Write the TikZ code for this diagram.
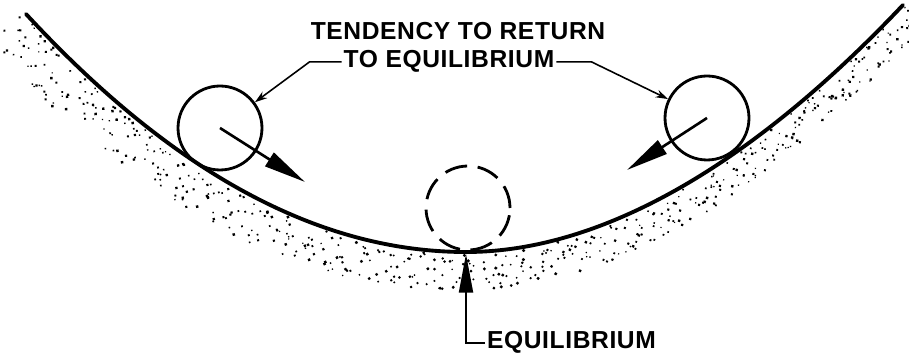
\documentclass[tikz,border=0pt]{standalone}
\usepackage{fontspec}
\newfontfamily\letterfont[LetterSpace=2.5]{Liberation Sans}
\usetikzlibrary{arrows.meta,decorations.markings}

\begin{document}
\begin{tikzpicture}[x=0.02cm,y=-0.02cm,
  ball/.style={circle,draw,line width=1.6pt,minimum size=1.68cm,inner sep=0pt},
  lbl/.style={font=\letterfont\bfseries\fontsize{14}{16}\selectfont,inner sep=1pt},
  leader/.style={line width=0.9pt,-{Stealth[length=7pt,width=4.5pt]}},
  push/.style={line width=1.5pt,-{Triangle[length=24pt,width=9pt]}},
  sand/.style={decoration={markings,
    mark=between positions 0 and 1 step 1.1pt with {
      \pgfmathsetmacro{\band}{26-11*\pgfkeysvalueof{/pgf/decoration/mark info/distance from start}/\pgfdecoratedpathlength}
      \pgfmathsetmacro{\dotr}{0.45+0.55*rnd}
      \fill ({(rnd-0.5)*6pt},{-1.5pt-rnd*\band*1pt}) circle (\dotr pt);}},
    postaction={decorate}}]
\useasboundingbox (0,0) rectangle (909,357);
\pgfmathsetseed{31}

% track with the ground under it
\draw[line width=2.2pt,line cap=round,sand] (26,14) .. controls (173,173) and (319,252) .. (466,252)
  .. controls (600,252) and (750,167) .. (903,5);

\node[ball] (lball) at (220,128) {};
\node[ball] (rball) at (707,118) {};
\node[ball,dashed,dash pattern=on 13pt off 6pt] (eqball) at (468,208) {};

\coordinate (ltip) at (305,182);
\coordinate (rtip) at (627,170);
\draw[push] (lball.center) -- (ltip);
\draw[push] (rball.center) -- (rtip);

\node[lbl,anchor=base] (tendency) at (458,40) {TENDENCY TO RETURN};
\node[lbl,anchor=base] (toeq) at (449,68) {TO EQUILIBRIUM};
\draw[leader] (toeq.west) -- ++(-32,0) -- (lball);
\draw[leader] (toeq.east) -- ++(35,0) -- (rball);

\coordinate (eqpt) at (466,254);
\node[lbl,anchor=base west] (eqlabel) at (485,349) {EQUILIBRIUM};
\draw[line width=1pt,-{Triangle[length=22pt,width=8pt]}] (eqlabel.west) -| (eqpt);
\end{tikzpicture}
\end{document}
